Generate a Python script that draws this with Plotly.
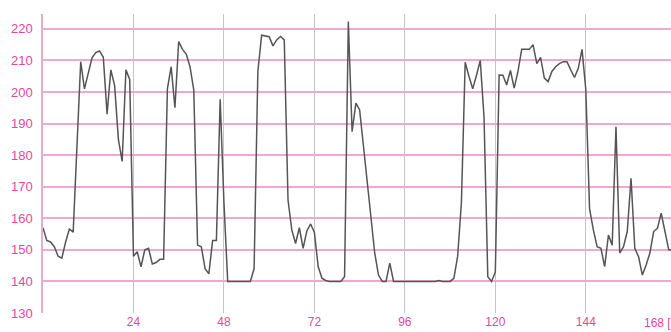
import plotly.graph_objects as go

hours = list(range(0, 168))
values = [
    157, 153, 152.5, 151, 148, 147.4, 152.5, 156.6, 155.6, 183,
    209.6, 201, 206, 210.8, 212.5, 213, 211, 193, 207, 202,
    185, 178, 207, 204, 148, 149.4, 144.6, 150, 150.5, 145.5,
    146, 147, 147, 201, 208, 195, 216, 213.5, 212, 208,
    200.6, 151.5, 151, 144, 142.4, 153, 153, 197.7, 165, 140,
    140, 140, 140, 140, 140, 140, 144, 206.5, 218, 217.8,
    217.5, 214.6, 216.5, 217.6, 216.5, 165.8, 156.3, 152, 157, 150.5,
    156, 158.2, 155.5, 144.7, 141, 140.3, 140, 140, 140, 140,
    141.5, 222.3, 187.4, 196.5, 194.3, 182.7, 172, 160, 149, 142,
    140, 140, 145.8, 140, 140, 140, 140, 140, 140, 140,
    140, 140, 140, 140, 140, 140.3, 140, 140, 140, 141,
    148, 165, 209.4, 205, 201, 205.3, 210, 192, 141.5, 140,
    143, 205.4, 205.3, 202.2, 206.8, 201.2, 206.5, 213.5, 213.4, 213.5,
    215, 209, 211, 204.4, 203.3, 206.5, 208, 209, 209.6, 209.6,
    207, 204.6, 207.5, 213.5, 200.7, 163, 156.3, 151, 150.5, 144.7,
    154.7, 151.5, 189, 149, 151, 155.8, 172.7, 150.5, 147.8, 142,
    145.2, 149, 155.8, 156.8, 161.6, 156.3, 150, 150,
]
x_ticks = [24, 48, 72, 96, 120, 144]
y_ticks = [130, 140, 150, 160, 170, 180, 190, 200, 210, 220]
last_label = "168 [h]"

pink = "#e4479a"
grid_pink = "#f0a8cc"

fig = go.Figure()
fig.add_trace(go.Scatter(
    x=hours, y=values, mode="lines",
    line=dict(color="#555555", width=1.5),
    hoverinfo="skip", showlegend=False,
))

fig.add_annotation(
    x=158.8, y=0, xref="x", yref="paper", yshift=-10,
    text=last_label, showarrow=False, xanchor="left", yanchor="middle",
    font=dict(family="Liberation Sans", size=12, color=pink),
)

fig.update_layout(
    width=671, height=332,
    margin=dict(l=43, r=0, t=14, b=19),
    paper_bgcolor="white", plot_bgcolor="white",
    font=dict(family="Liberation Sans", size=12, color=pink),
    xaxis=dict(
        range=[0, 166.6], tickvals=x_ticks, ticktext=[str(v) for v in x_ticks],
        showgrid=True, gridcolor="#c4c4c4", gridwidth=1,
        showline=False, zeroline=False, ticks="", automargin=False,
        tickfont=dict(size=12, color=pink),
    ),
    yaxis=dict(
        range=[130, 224.7], tickvals=y_ticks,
        showgrid=True, gridcolor=grid_pink, gridwidth=1.5,
        showline=True, linecolor=grid_pink, linewidth=1.5,
        zeroline=False, ticks="", ticklabelstandoff=6, automargin=False,
        tickfont=dict(size=13, color=pink),
    ),
)

fig.write_html(
    "out.html",
    config={"displayModeBar": False},
    post_script="document.body.style.margin='0';document.body.style.padding='0';",
)
